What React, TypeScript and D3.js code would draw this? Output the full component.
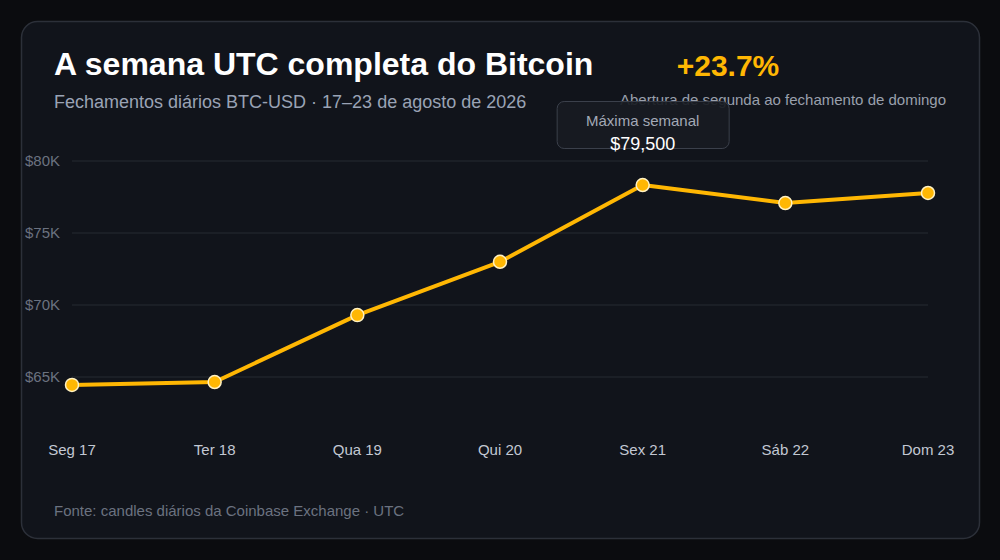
import React, { useEffect, useRef } from 'react';
import * as d3 from 'd3';

const days = ['Seg 17', 'Ter 18', 'Qua 19', 'Qui 20', 'Sex 21', 'Sáb 22', 'Dom 23'];
const closes = [64450, 64650, 69300, 73000, 78330, 77080, 77780];
const yTicks = [65000, 70000, 75000, 80000];

const W = 1000;
const H = 560;
const FONT = '"Liberation Sans", Arial, Helvetica, sans-serif';
const AMBER = '#ffb703';

const App: React.FC = () => {
  const svgRef = useRef<SVGSVGElement>(null);

  useEffect(() => {
    if (!svgRef.current) return;
    const svg = d3.select(svgRef.current);
    svg.selectAll('*').remove();

    svg.append('rect').attr('width', W).attr('height', H).attr('fill', '#0b0c0f');
    svg.append('rect')
      .attr('x', 21.5).attr('y', 21.5)
      .attr('width', 958).attr('height', 517)
      .attr('rx', 16)
      .attr('fill', '#11141b')
      .attr('stroke', '#2c3039')
      .attr('stroke-width', 1.5);

    const x = d3.scalePoint<string>().domain(days).range([72, 928]);
    const y = d3.scaleLinear().domain([62000, 82000]).range([420.2, 132.2]);

    // grid + y labels
    const grid = svg.append('g');
    grid.selectAll('line')
      .data(yTicks)
      .join('line')
      .attr('x1', 72).attr('x2', 928)
      .attr('y1', d => y(d)).attr('y2', d => y(d))
      .attr('stroke', '#262a33')
      .attr('stroke-width', 1);
    grid.selectAll('text')
      .data(yTicks)
      .join('text')
      .attr('x', 60)
      .attr('y', d => y(d) + 5)
      .attr('text-anchor', 'end')
      .attr('font-family', FONT)
      .attr('font-size', 15)
      .attr('fill', '#6b7280')
      .text(d => `$${d / 1000}K`);

    // x labels
    svg.append('g').selectAll('text')
      .data(days)
      .join('text')
      .attr('x', d => x(d) as number)
      .attr('y', 455)
      .attr('text-anchor', 'middle')
      .attr('font-family', FONT)
      .attr('font-size', 15)
      .attr('fill', '#c3c8d3')
      .text(d => d);

    // header
    svg.append('text')
      .attr('x', 54).attr('y', 75)
      .attr('font-family', FONT)
      .attr('font-size', 32)
      .attr('font-weight', 700)
      .attr('fill', '#ffffff')
      .text('A semana UTC completa do Bitcoin');
    svg.append('text')
      .attr('x', 54).attr('y', 108)
      .attr('font-family', FONT)
      .attr('font-size', 18)
      .attr('fill', '#9aa3b5')
      .text('Fechamentos diários BTC-USD · 17–23 de agosto de 2026');
    svg.append('text')
      .attr('x', 728).attr('y', 76)
      .attr('text-anchor', 'middle')
      .attr('font-family', FONT)
      .attr('font-size', 30)
      .attr('font-weight', 700)
      .attr('fill', AMBER)
      .text('+23.7%');
    svg.append('text')
      .attr('x', 783).attr('y', 105)
      .attr('text-anchor', 'middle')
      .attr('font-family', FONT)
      .attr('font-size', 15)
      .attr('fill', '#9aa0ad')
      .text('Abertura de segunda ao fechamento de domingo');

    // line
    const line = d3.line<number>()
      .x((_, i) => x(days[i]) as number)
      .y(d => y(d));
    svg.append('path')
      .datum(closes)
      .attr('d', line)
      .attr('fill', 'none')
      .attr('stroke', AMBER)
      .attr('stroke-width', 4)
      .attr('stroke-linejoin', 'round');
    svg.append('g').selectAll('circle')
      .data(closes)
      .join('circle')
      .attr('cx', (_, i) => x(days[i]) as number)
      .attr('cy', d => y(d))
      .attr('r', 6.5)
      .attr('fill', AMBER)
      .attr('stroke', '#fff1c2')
      .attr('stroke-width', 1.5);

    // weekly high callout
    const hx = x(days[4]) as number;
    const callout = svg.append('g');
    callout.append('rect')
      .attr('x', hx - 85.5).attr('y', 101.5)
      .attr('width', 172).attr('height', 47)
      .attr('rx', 7)
      .attr('fill', '#181b22')
      .attr('fill-opacity', 0.92)
      .attr('stroke', '#3b404b')
      .attr('stroke-width', 1);
    callout.append('text')
      .attr('x', hx).attr('y', 126)
      .attr('text-anchor', 'middle')
      .attr('font-family', FONT)
      .attr('font-size', 15)
      .attr('fill', '#a3a9b6')
      .text('Máxima semanal');
    callout.append('text')
      .attr('x', hx).attr('y', 150)
      .attr('text-anchor', 'middle')
      .attr('font-family', FONT)
      .attr('font-size', 18)
      .attr('fill', '#ffffff')
      .text('$79,500');

    // footer
    svg.append('text')
      .attr('x', 54).attr('y', 516)
      .attr('font-family', FONT)
      .attr('font-size', 15)
      .attr('fill', '#6b7280')
      .text('Fonte: candles diários da Coinbase Exchange · UTC');
  }, []);

  return (
    <div style={{ position: 'fixed', left: 0, top: 0, width: W, height: H }}>
      <svg ref={svgRef} width={W} height={H} style={{ display: 'block' }} />
    </div>
  );
};

export default App;
